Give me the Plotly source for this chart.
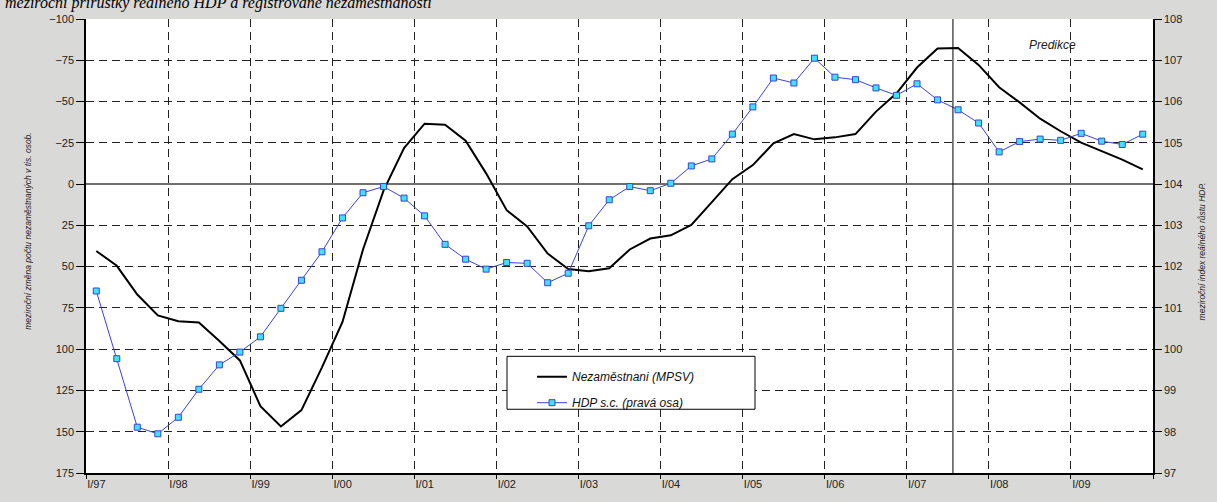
import numpy as np
import plotly.graph_objects as go

# quarterly categories I/97 ... IV/09
years = [f"{y:02d}" for y in list(range(97, 100)) + list(range(0, 10))]
quarters = [f"{q}/{y}" for y in years for q in ["I", "II", "III", "IV"]]
year_labels = [f"I/{y}" for y in years] + [""]

# meziroční změna počtu nezaměstnaných (tis. osob), levá osa (obrácená)
nezamestnani = [
    40.5, 49.5, 66.9, 79.5, 83.1, 83.9, 95.0, 106.8, 134.5, 146.8, 136.9, 111.0,
    83.5, 39.6, 4.0, -21.8, -36.6, -36.0, -26.3, -6.5, 15.8, 25.7, 42.1, 51.4,
    52.8, 51.0, 39.6, 33.0, 31.0, 24.7, 10.9, -3.0, -11.5, -24.7, -30.3, -27.1,
    -28.3, -30.3, -43.9, -55.0, -70.6, -82.1, -82.5, -72.2, -58.7, -49.5, -39.6, -32.0,
    -25.1, -19.8, -14.8, -8.9,
]

# meziroční index reálného růstu HDP, pravá osa
hdp = [
    101.41, 99.77, 98.11, 97.95, 98.35, 99.03, 99.62, 99.93, 100.30, 100.99, 101.67, 102.36,
    103.18, 103.79, 103.94, 103.66, 103.23, 102.54, 102.18, 101.94, 102.10, 102.08, 101.61, 101.84,
    102.99, 103.62, 103.94, 103.84, 104.02, 104.44, 104.61, 105.21, 105.87, 106.57, 106.45, 107.05,
    106.59, 106.53, 106.33, 106.15, 106.43, 106.04, 105.80, 105.48, 104.78, 105.03, 105.09, 105.06,
    105.23, 105.04, 104.96, 105.21,
]

left_ticks = list(range(-100, 176, 25))
right_ticks = list(range(97, 109))
prediction_start = 42.25  # hranice predikce (v pořadí čtvrtletí)

x = np.arange(len(quarters)) + 0.5

fig = go.Figure()
fig.add_trace(go.Scatter(
    x=x, y=nezamestnani, name="Nezaměstnani (MPSV)", mode="lines", legendgroup="a",
    line=dict(color="black", width=2), text=quarters, yaxis="y",
))
fig.add_trace(go.Scatter(
    x=x, y=hdp, name="HDP s.c. (pravá osa)", mode="lines+markers", legendgroup="b",
    line=dict(color="#3b44d0", width=1),
    marker=dict(symbol="square", size=6, color="#40e0ff", line=dict(color="#3b44d0", width=1)),
    text=quarters, yaxis="y2",
))

L, R, T, B = 86, 1153, 19, 482
W, H = R - L, B - T
px = lambda p: (p - L) / W
py = lambda p: (B - p) / H

tickfont = dict(family="Liberation Sans, Arial", size=11, color="#222")

fig.update_layout(
    width=1217, height=502,
    margin=dict(l=L, r=1217 - R, t=T, b=502 - B),
    paper_bgcolor="#d9d9d7", plot_bgcolor="white",
    showlegend=True,
    legend=dict(
        x=px(532), y=py(369), xanchor="left", yanchor="top",
        bgcolor="rgba(0,0,0,0)", borderwidth=0, tracegroupgap=7,
        font=dict(family="Liberation Sans, Arial", size=12, color="#111", style="italic"),
    ),
    xaxis=dict(
        range=[0, 52], tickvals=list(range(0, 53, 4)), ticktext=year_labels,
        ticklabelposition="outside right", tickfont=tickfont,
        showgrid=True, gridcolor="#222", griddash="8px,5px", gridwidth=1,
        showline=True, linecolor="black", linewidth=1.5,
        ticks="outside", ticklen=4, tickcolor="black", zeroline=False,
    ),
    yaxis=dict(
        range=[175, -100], tickvals=left_ticks, tickfont=tickfont,
        showgrid=True, gridcolor="#222", griddash="8px,5px", gridwidth=1,
        zeroline=True, zerolinecolor="#707070", zerolinewidth=1.5,
        showline=True, linecolor="black", linewidth=1.5,
        ticks="outside", ticklen=8, tickcolor="black",
    ),
    yaxis2=dict(
        range=[97, 108], tickvals=right_ticks, overlaying="y", side="right",
        tickfont=tickfont, showgrid=False, zeroline=False,
        showline=True, linecolor="black", linewidth=1.5,
        ticks="outside", ticklen=7, tickcolor="black",
    ),
)

# rámeček legendy
fig.add_shape(type="rect", xref="paper", yref="paper",
              x0=px(507), x1=px(755), y0=py(417), y1=py(363),
              fillcolor="white", line=dict(color="black", width=1), layer="above")
# začátek predikce
fig.add_shape(type="line", xref="x", yref="paper", x0=prediction_start, x1=prediction_start,
              y0=0, y1=1, line=dict(color="black", width=1), layer="above")

fig.add_annotation(text="Predikce", xref="paper", yref="paper", x=px(1052), y=py(46),
                   xanchor="center", yanchor="middle", showarrow=False,
                   font=dict(family="Liberation Sans, Arial", size=12, color="#222", style="italic"))
fig.add_annotation(text="meziroční změna počtu nezaměstnaných v tis. osob.", xref="paper", yref="paper",
                   x=px(28), y=py(236), xanchor="center", yanchor="middle", textangle=-90, showarrow=False,
                   font=dict(family="Liberation Sans, Arial", size=8.5, color="#222", style="italic"))
fig.add_annotation(text="meziroční index reálného růstu HDP.", xref="paper", yref="paper",
                   x=px(1202), y=py(256), xanchor="center", yanchor="middle", textangle=-90, showarrow=False,
                   font=dict(family="Liberation Sans, Arial", size=8.5, color="#222", style="italic"))
fig.add_annotation(text="meziroční přírůstky reálného HDP a registrované nezaměstnanosti",
                   xref="paper", yref="paper", x=px(3), y=py(3), xanchor="left", yanchor="middle",
                   showarrow=False,
                   font=dict(family="Liberation Serif, Times New Roman", size=16, color="black", style="italic"))

fig.write_html("out.html", config={"displayModeBar": False},
               post_script="document.body.style.margin='0';")
